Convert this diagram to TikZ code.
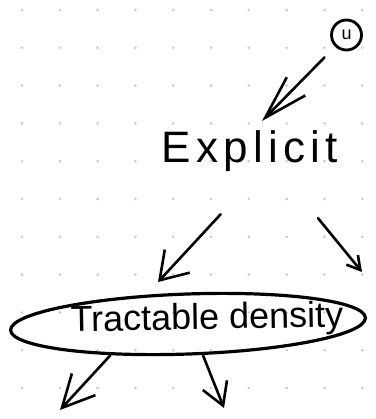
\documentclass[tikz,border=0pt]{standalone}
\usepackage{fontspec}
\setmainfont{Liberation Sans}
\usetikzlibrary{arrows.meta,shapes.geometric}
\tikzset{
  sk/.style 2 args={line width=2.6pt, line cap=round, line join=round,
    -{Straight Barb[length=#1, width=#2]}},
  dotc/.style={fill=black!22},
  label/.style={inner sep=0pt}
}
\begin{document}
\begin{tikzpicture}[x=1pt, y=-1pt]
        \def\g{37.8}
        \useasboundingbox[fill=white] (0,0) rectangle (375,419);

        \foreach \i in {0,...,9}
          \foreach \j in {0,...,10}
            \fill[dotc] (22+\g*\i, 10+\g*\j) circle (1.4pt);

        \node[circle, draw, line width=2.8pt, minimum size=30pt, inner sep=0pt, font=\fontsize{18}{18}\selectfont] (alpha) at (346.5,35) {u};
        \node[label, font=\fontsize{44}{44}\selectfont\addfontfeature{LetterSpace=12}] (explicit) at (250,151) {Explicit};
        \node[ellipse, draw, line width=3.2pt, minimum width=355pt, minimum height=60pt, rotate=2] (loop) at (188,324) {};
        \node[label, font=\fontsize{36}{36}\selectfont, rotate=1] (tractable) at (207,320) {Tractable density};

        \coordinate (t1) at (262,121);
        \coordinate (t2) at (158,282);
        \coordinate (t3) at (362,272);
        \coordinate (t4) at (60,410);
        \coordinate (t5) at (224,408);

        \draw[sk={44pt}{26pt}, shorten <=15pt] (alpha) -- (t1);
        \draw[sk={26pt}{34pt}, shorten <=58pt] ([xshift=10pt]explicit.south) -- (t2);
        \draw[sk={13pt}{15pt}, shorten <=60pt] ([xshift=30pt]explicit.south) -- (t3);
        \draw[sk={32pt}{32pt}] ([xshift=-79pt]loop.south) -- (t4);
        \draw[sk={22pt}{26pt}] ([xshift=14pt]loop.south) -- (t5);
    \end{tikzpicture}
\end{document}
